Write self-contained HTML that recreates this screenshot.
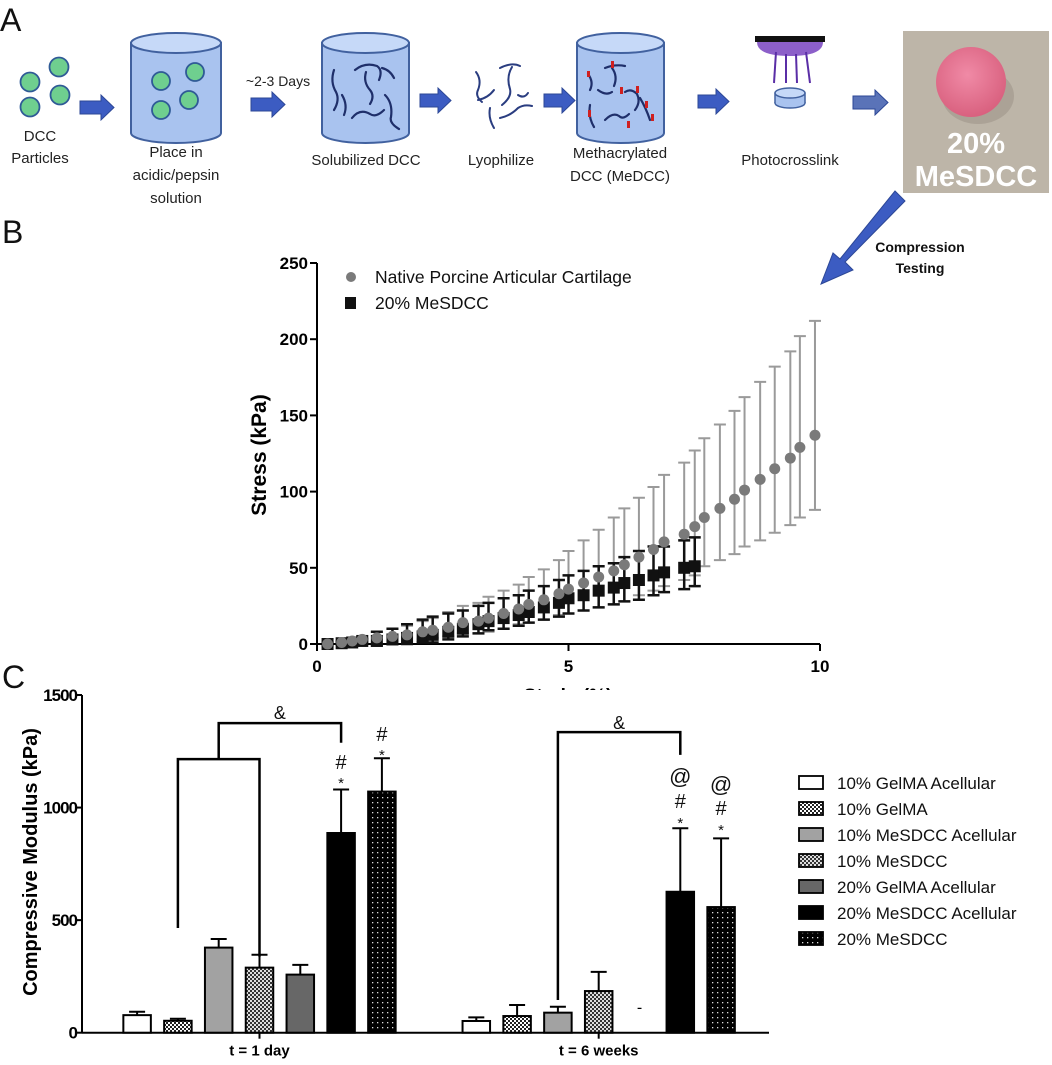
<!DOCTYPE html>
<html><head><meta charset="utf-8"><style>
html,body{margin:0;padding:0;background:#fff;}
svg{display:block;font-family:"Liberation Sans",sans-serif;}
</style></head><body>
<svg id="fig" width="1052" height="1065" viewBox="0 0 1052 1065" xmlns="http://www.w3.org/2000/svg">
<defs>
  <pattern id="pGel" width="4" height="4" patternUnits="userSpaceOnUse"><rect width="4" height="4" fill="#fff"/><rect width="2" height="2" fill="#222"/><rect x="2" y="2" width="2" height="2" fill="#222"/></pattern>
  <pattern id="pMes" width="4" height="4" patternUnits="userSpaceOnUse"><rect width="4" height="4" fill="#ddd"/><rect width="2" height="2" fill="#333"/><rect x="2" y="2" width="2" height="2" fill="#333"/></pattern>
  <pattern id="pDot" width="5" height="5" patternUnits="userSpaceOnUse"><rect width="5" height="5" fill="#000"/><rect x="2" y="2" width="1.3" height="1.3" fill="#ddd"/></pattern>
  <clipPath id="clipStrain"><rect x="0" y="0" width="1052" height="690"/></clipPath>
  <radialGradient id="gPink" cx="45%" cy="40%" r="60%"><stop offset="0" stop-color="#f08aa6"/><stop offset="1" stop-color="#d9617f"/></radialGradient>
</defs>

<!-- ============ PANEL A ============ -->
<g>
  <text x="0" y="31" font-size="32" fill="#111">A</text>
  <g fill="#6fcf8f" stroke="#2f5a96" stroke-width="1.8">
    <circle cx="59" cy="67" r="9.5"/><circle cx="30" cy="82" r="9.5"/><circle cx="60" cy="95" r="9.5"/><circle cx="30" cy="107" r="9.5"/>
  </g>
  <text x="40" y="141" font-size="15" text-anchor="middle" fill="#222">DCC</text>
  <text x="40" y="163" font-size="15" text-anchor="middle" fill="#222">Particles</text>

  <g>
    <path d="M131,43 L131,133 A45,10 0 0 0 221,133 L221,43 Z" fill="#a9c3ef" stroke="#41619f" stroke-width="2"/>
    <ellipse cx="176" cy="43" rx="45" ry="10" fill="#c6d9f8" stroke="#41619f" stroke-width="2"/>
    <g fill="#6fcf8f" stroke="#2f5a96" stroke-width="1.8"><circle cx="195" cy="72" r="9"/><circle cx="161" cy="81" r="9"/><circle cx="189" cy="100" r="9"/><circle cx="161" cy="110" r="9"/></g>
  </g>
  <text x="176" y="157" font-size="15" text-anchor="middle" fill="#222">Place in</text>
  <text x="176" y="180" font-size="15" text-anchor="middle" fill="#222">acidic/pepsin</text>
  <text x="176" y="203" font-size="15" text-anchor="middle" fill="#222">solution</text>
  <text x="278" y="86" font-size="14" text-anchor="middle" fill="#222">~2-3 Days</text>

  <g>
    <path d="M322,43 L322,133 A43.5,10 0 0 0 409,133 L409,43 Z" fill="#a9c3ef" stroke="#41619f" stroke-width="2"/>
    <ellipse cx="365.5" cy="43" rx="43.5" ry="10" fill="#c6d9f8" stroke="#41619f" stroke-width="2"/>
    <g fill="none" stroke="#1f2f6a" stroke-width="2.2" stroke-linecap="round">
      <path d="M355,70 q10,-8 22,-4 q6,4 2,14"/><path d="M334,70 q-4,12 2,22 q4,8 -2,18"/><path d="M366,72 q-3,10 4,18 q5,6 0,14"/>
      <path d="M342,95 q6,10 2,20"/><path d="M352,118 q8,-10 18,-4 q6,4 14,-4"/><path d="M385,95 q8,8 6,22 q-2,6 8,12"/><path d="M382,68 q8,2 12,10"/>
    </g>
  </g>
  <text x="366" y="165" font-size="15" text-anchor="middle" fill="#222">Solubilized DCC</text>

  <g fill="none" stroke="#2a3d80" stroke-width="2" stroke-linecap="round">
    <path d="M476,72 q6,8 2,18 q-3,6 4,12"/><path d="M500,68 q12,-6 20,-2"/><path d="M512,67 q-6,10 -2,22 q2,8 -8,16"/><path d="M478,100 q10,-2 16,-10"/>
    <path d="M490,108 q-2,10 4,20"/><path d="M500,118 q10,-2 18,-10 q6,-4 14,-2"/><path d="M518,95 q6,4 10,-2"/>
  </g>
  <text x="501" y="165" font-size="15" text-anchor="middle" fill="#222">Lyophilize</text>

  <g>
    <path d="M577,43 L577,133 A43.5,10 0 0 0 664,133 L664,43 Z" fill="#a9c3ef" stroke="#41619f" stroke-width="2"/>
    <ellipse cx="620.5" cy="43" rx="43.5" ry="10" fill="#c6d9f8" stroke="#41619f" stroke-width="2"/>
    <g fill="none" stroke="#1f2f6a" stroke-width="2.2" stroke-linecap="round">
      <path d="M605,68 q10,-4 20,-2"/><path d="M612,68 q6,8 2,18"/><path d="M588,74 q6,8 2,16"/><path d="M625,92 q6,-4 12,2 q4,8 -2,16"/>
      <path d="M590,105 q-2,12 4,22"/><path d="M605,120 q8,-8 14,-4 q4,4 10,-2"/><path d="M640,98 q6,10 10,22"/><path d="M598,90 q8,6 14,2"/>
    </g>
    <g fill="#d02020"><rect x="611" y="61" width="3" height="7"/><rect x="620" y="87" width="3" height="7"/><rect x="636" y="86" width="3" height="7"/><rect x="645" y="101" width="3" height="7"/><rect x="651" y="114" width="3" height="7"/><rect x="588" y="110" width="3" height="7"/><rect x="627" y="121" width="3" height="7"/><rect x="587" y="71" width="3" height="6"/></g>
  </g>
  <text x="620" y="158" font-size="15" text-anchor="middle" fill="#222">Methacrylated</text>
  <text x="620" y="181" font-size="15" text-anchor="middle" fill="#222">DCC (MeDCC)</text>

  <g>
    <rect x="755" y="36" width="70" height="6" fill="#111"/>
    <path d="M757,42 L823,42 Q823,56 790,56 Q757,56 757,42 Z" fill="#8c5fc9"/>
    <g stroke="#5a2ea6" stroke-width="2"><line x1="776" y1="52" x2="774" y2="83"/><line x1="786" y1="54" x2="786" y2="83"/><line x1="796" y1="54" x2="797" y2="83"/><line x1="806" y1="52" x2="810" y2="83"/></g>
    <ellipse cx="790" cy="103" rx="15" ry="5" fill="#a9c3ef" stroke="#41619f" stroke-width="1.5"/>
    <rect x="775" y="93" width="30" height="10" fill="#a9c3ef" stroke="none"/>
    <line x1="775" y1="93" x2="775" y2="103" stroke="#41619f" stroke-width="1.5"/><line x1="805" y1="93" x2="805" y2="103" stroke="#41619f" stroke-width="1.5"/>
    <ellipse cx="790" cy="93" rx="15" ry="5" fill="#c6d9f8" stroke="#41619f" stroke-width="1.5"/>
  </g>
  <text x="790" y="165" font-size="15" text-anchor="middle" fill="#222">Photocrosslink</text>

  <g fill="#3c5cc2" stroke="#2c4796" stroke-width="1">
    <path d="M80,101 L101,101 L101,95 L114,107.5 L101,120 L101,114 L80,114 Z"/>
    <path d="M251,98 L272,98 L272,92 L285,104.5 L272,117 L272,111 L251,111 Z"/>
    <path d="M420,94 L438,94 L438,88 L451,100.5 L438,113 L438,107 L420,107 Z"/>
    <path d="M544,94 L562,94 L562,88 L575,100.5 L562,113 L562,107 L544,107 Z"/>
    <path d="M698,95 L716,95 L716,89 L729,101.5 L716,114 L716,108 L698,108 Z"/>
    <path d="M853,96 L875,96 L875,90 L888,102.5 L875,115 L875,109 L853,109 Z" fill="#5a73b8"/>
  </g>

  <g>
    <rect x="903" y="31" width="146" height="162" fill="#bdb5a8"/>
    <ellipse cx="978" cy="96" rx="36" ry="28" fill="#a49a8e" opacity="0.7"/>
    <circle cx="971" cy="82" r="35" fill="url(#gPink)"/>
    <text x="976" y="153" font-size="29" font-weight="bold" fill="#fff" text-anchor="middle">20%</text>
    <text x="976" y="186" font-size="29" font-weight="bold" fill="#fff" text-anchor="middle">MeSDCC</text>
  </g>
  <path d="M895,191 L905,201 L845,262 L853,270 L821,284 L833,253 L840,259 Z" fill="#3c5cc2" stroke="#2c4796"/>
  <text x="920" y="252" font-size="14" font-weight="bold" text-anchor="middle" fill="#111">Compression</text>
  <text x="920" y="273" font-size="14" font-weight="bold" text-anchor="middle" fill="#111">Testing</text>
</g>

<!-- ============ PANEL B ============ -->
<text x="2" y="243" font-size="32" fill="#111">B</text>
<g id="chartB"></g>

<!-- ============ PANEL C ============ -->
<text x="2" y="688" font-size="32" fill="#111">C</text>
<g id="chartC"></g>
</svg>

<script>
// ---------- Panel B data ----------
const nativeStrain = [0.21,0.49,0.70,0.90,1.19,1.50,1.79,2.10,2.30,2.61,2.90,3.21,3.41,3.71,4.01,4.21,4.51,4.81,5.00,5.30,5.60,5.90,6.11,6.40,6.69,6.90,7.30,7.51,7.70,8.01,8.30,8.50,8.81,9.10,9.41,9.60,9.90];
const nativeStress = [0,1,2,3,4,5,6,8,9,11,14,15,17,20,23,26,29,33,36,40,44,48,52,57,62,67,72,77,83,89,95,101,108,115,122,129,137];
const nativeErrHi = [1,1,1,1,4,5,6,7,8,10,11,12,14,15,16,18,20,22,25,28,31,35,37,39,41,44,47,50,52,55,58,61,64,67,70,73,75];
const nativeErrLo = [1,1,1,1,3,3,4,5,5,6,7,8,9,10,10,12,13,14,16,18,20,22,24,25,27,29,30,32,32,34,36,37,40,42,44,46,49];
const mesStrain = [0.21,0.49,0.70,0.90,1.19,1.50,1.79,2.10,2.30,2.61,2.90,3.21,3.41,3.71,4.01,4.21,4.51,4.81,5.00,5.30,5.60,5.90,6.11,6.40,6.69,6.90,7.30,7.51];
const mesStress = [0,0.5,1,2,2,3,4,5,6,8,10,13,15,17,19,21,24,27,30,32,35,37,40,42,45,47,50,51];
const mesErrHi = [1,1,1,1,6,7,9,11,12,12,12,12,12,13,13,14,14,15,15,16,16,16,17,19,19,17,18,19];
const mesErrLo = [1,1,1,1,3,3,4,4,5,5,5,6,6,7,7,7,8,9,10,10,11,11,12,13,13,13,14,13];
const bYTicks = [0,50,100,150,200,250];
const bXTicks = [0,5,10];

// ---------- Panel C data ----------
const cGroups = ["t = 1 day","t = 6 weeks"];
const cSeries = ["10% GelMA Acellular","10% GelMA","10% MeSDCC Acellular","10% MeSDCC","20% GelMA Acellular","20% MeSDCC Acellular","20% MeSDCC"];
const day1Values = [78,53,378,289,258,887,1071];
const day1Err = [15,9,38,57,43,193,148];
const week6Values = [52,74,89,185,0,626,558];
const week6Err = [16,49,26,85,0,282,305];
const cYTicks = [0,500,1000,1500];

const NS = "http://www.w3.org/2000/svg";
function mk(parent, tag, attrs, text){
  const e = document.createElementNS(NS, tag);
  for (const k in attrs) e.setAttribute(k, attrs[k]);
  if (text !== undefined) e.textContent = text;
  parent.appendChild(e);
  return e;
}

// ===== Chart B =====
(function(){
  const g = document.getElementById('chartB');
  const X0 = 317, X1 = 820, Y0 = 644, Y1 = 263;
  const xs = v => X0 + v/10*(X1-X0);
  const ys = v => Y0 - v/250*(Y0-Y1);
  let e;
  e = mk(g,'line',{x1:X0,y1:Y0,x2:X0,y2:Y1,stroke:'#000','stroke-width':2});
  
  
  e = mk(g,'line',{x1:X0,y1:Y0,x2:X1,y2:Y0,stroke:'#000','stroke-width':2});
  
  
  bYTicks.forEach(t=>{
    mk(g,'line',{x1:X0-7,y1:ys(t),x2:X0,y2:ys(t),stroke:'#000','stroke-width':2});
    e = mk(g,'text',{x:X0-9,y:ys(t)+6,'font-size':17,'font-weight':'bold','text-anchor':'end'},String(t));
    
    
  });
  bXTicks.forEach(t=>{
    mk(g,'line',{x1:xs(t),y1:Y0,x2:xs(t),y2:Y0+7,stroke:'#000','stroke-width':2});
    e = mk(g,'text',{x:xs(t),y:Y0+28,'font-size':17,'font-weight':'bold','text-anchor':'middle'},String(t));
    
    
  });
  e = mk(g,'text',{x:568,y:702,'font-size':19,'font-weight':'bold','text-anchor':'middle','clip-path':'url(#clipStrain)'},'Strain (%)');
  
  
  e = mk(g,'text',{x:0,y:0,'font-size':21,'font-weight':'bold','text-anchor':'middle',transform:'translate(266,455) rotate(-90)'},'Stress (kPa)');
  
  

  function errbar(x,v,hi,lo,col,w){
    const p = mk(g,'path',{d:`M${x},${ys(v+hi)} L${x},${ys(v-lo)} M${x-6},${ys(v+hi)} L${x+6},${ys(v+hi)} M${x-6},${ys(v-lo)} L${x+6},${ys(v-lo)}`,stroke:col,'stroke-width':w,fill:'none'});
    return p;
  }
  nativeStrain.forEach((s,i)=>{
    const p = errbar(xs(s),nativeStress[i],nativeErrHi[i],nativeErrLo[i],'#9a9a9a',2);
    
    
  });
  mesStrain.forEach((s,i)=>{
    const p = errbar(xs(s),mesStress[i],mesErrHi[i],mesErrLo[i],'#111',2.5);
    
    
  });
  mesStrain.forEach((s,i)=>{
    const r = mk(g,'rect',{x:xs(s)-6,y:ys(mesStress[i])-6,width:12,height:12,fill:'#111'});
    
    
  });
  nativeStrain.forEach((s,i)=>{
    const c = mk(g,'circle',{cx:xs(s),cy:ys(nativeStress[i]),r:5.5,fill:'#7a7a7a'});
    
    
  });
  // legend
  e = mk(g,'circle',{cx:351,cy:277,r:5,fill:'#7a7a7a'});
  
  
  e = mk(g,'text',{x:375,y:283,'font-size':17.5,fill:'#111'},'Native Porcine Articular Cartilage');
  
  
  e = mk(g,'rect',{x:345,y:297,width:11,height:12,fill:'#111'});
  
  
  e = mk(g,'text',{x:375,y:309,'font-size':17.5,fill:'#111'},'20% MeSDCC');
  
  
})();

// ===== Chart C =====
(function(){
  const g = document.getElementById('chartC');
  const AX = 82, Y0 = 1032.7, Y1 = 695, XEND = 769;
  const ys = v => Y0 - v/1500*(Y0-Y1);
  const centers = [259.5, 598.7];
  const step = 40.8, bw = 27.5;
  const fills = ['#fff','url(#pGel)','#a2a2a2','url(#pMes)','#676767','#000','url(#pDot)'];
  let e;
  e = mk(g,'line',{x1:AX,y1:Y0,x2:AX,y2:Y1,stroke:'#000','stroke-width':2});
  
  
  e = mk(g,'line',{x1:AX,y1:Y0,x2:XEND,y2:Y0,stroke:'#000','stroke-width':2});
  
  
  cYTicks.forEach(t=>{
    mk(g,'line',{x1:AX-6,y1:ys(t),x2:AX,y2:ys(t),stroke:'#000','stroke-width':2});
    e = mk(g,'text',{x:AX-5,y:ys(t)+6,'font-size':17,'font-weight':'bold','text-anchor':'end','letter-spacing':'-1'},String(t));
    
    
  });
  e = mk(g,'text',{x:0,y:0,'font-size':20,'font-weight':'bold','text-anchor':'middle',transform:'translate(37,862) rotate(-90)'},'Compressive Modulus (kPa)');
  
  
  cGroups.forEach((gname,gi)=>{
    mk(g,'line',{x1:centers[gi],y1:Y0,x2:centers[gi],y2:Y0+6,stroke:'#000','stroke-width':2});
    e = mk(g,'text',{x:centers[gi],y:Y0+23,'font-size':15,'font-weight':'bold','text-anchor':'middle'},gname);
    
    
  });
  const groupVals = [day1Values, week6Values];
  const groupErr = [day1Err, week6Err];
  groupVals.forEach((vals,gi)=>{
    vals.forEach((v,i)=>{
      const cx = centers[gi] + (i-3)*step;
      if (v <= 0){
        e = mk(g,'text',{x:cx,y:ys(0)-20,'font-size':16,'text-anchor':'middle'},'-');
        
        
        return;
      }
      const er = groupErr[gi][i];
      e = mk(g,'path',{d:`M${cx},${ys(v)} L${cx},${ys(v+er)} M${cx-8},${ys(v+er)} L${cx+8},${ys(v+er)}`,stroke:'#000','stroke-width':2,fill:'none'});
      
      
      e = mk(g,'rect',{x:cx-bw/2,y:ys(v),width:bw,height:Y0-ys(v),fill:fills[i],stroke:'#000','stroke-width':2});
      
      
    });
  });
  // significance annotations
  const br = (d,name)=>{ const p = mk(g,'path',{d:d,stroke:'#000','stroke-width':2.5,fill:'none'});   };
  const c1 = centers[0], c2 = centers[1];
  br(`M${c1-2*step},${ys(465)} L${c1-2*step},${ys(1215)} L${c1},${ys(1215)} L${c1},${ys(338)}`,'bracket-day1-lower');
  br(`M${c1-step},${ys(1215)} L${c1-step},${ys(1375)} L${c1+2*step},${ys(1375)} L${c1+2*step},${ys(1288)}`,'bracket-day1-upper');
  br(`M${c2-step},${ys(145)} L${c2-step},${ys(1335)} L${c2+2*step},${ys(1335)} L${c2+2*step},${ys(1234)}`,'bracket-week6');
  const t = (x,y,s,size,name)=>{ const e = mk(g,'text',{x:x,y:y,'font-size':size,'text-anchor':'middle',fill:'#111'},s);   };
  t(c1+0.5*step, 719, '&', 18, 'significance-amp-day1');
  t(c2+0.5*step, 729, '&', 18, 'significance-amp-week6');
  t(c1+2*step, 769, '#', 20, 'significance-hash');
  t(c1+2*step, 788, '*', 15, 'significance-star');
  t(c1+3*step, 741, '#', 20, 'significance-hash');
  t(c1+3*step, 760, '*', 15, 'significance-star');
  t(c2+2*step, 784, '@', 22, 'significance-at');
  t(c2+2*step, 808, '#', 20, 'significance-hash');
  t(c2+2*step, 828, '*', 15, 'significance-star');
  t(c2+3*step, 792, '@', 22, 'significance-at');
  t(c2+3*step, 815, '#', 20, 'significance-hash');
  t(c2+3*step, 835, '*', 15, 'significance-star');
  // legend
  cSeries.forEach((s,i)=>{
    const y = 776 + i*26;
    e = mk(g,'rect',{x:799,y:y,width:24,height:13,fill:fills[i],stroke:'#000','stroke-width':1.8});
    
    
    e = mk(g,'text',{x:837,y:y+13,'font-size':17,fill:'#111'},s);
    
    
  });
})();
</script>
</body></html>
